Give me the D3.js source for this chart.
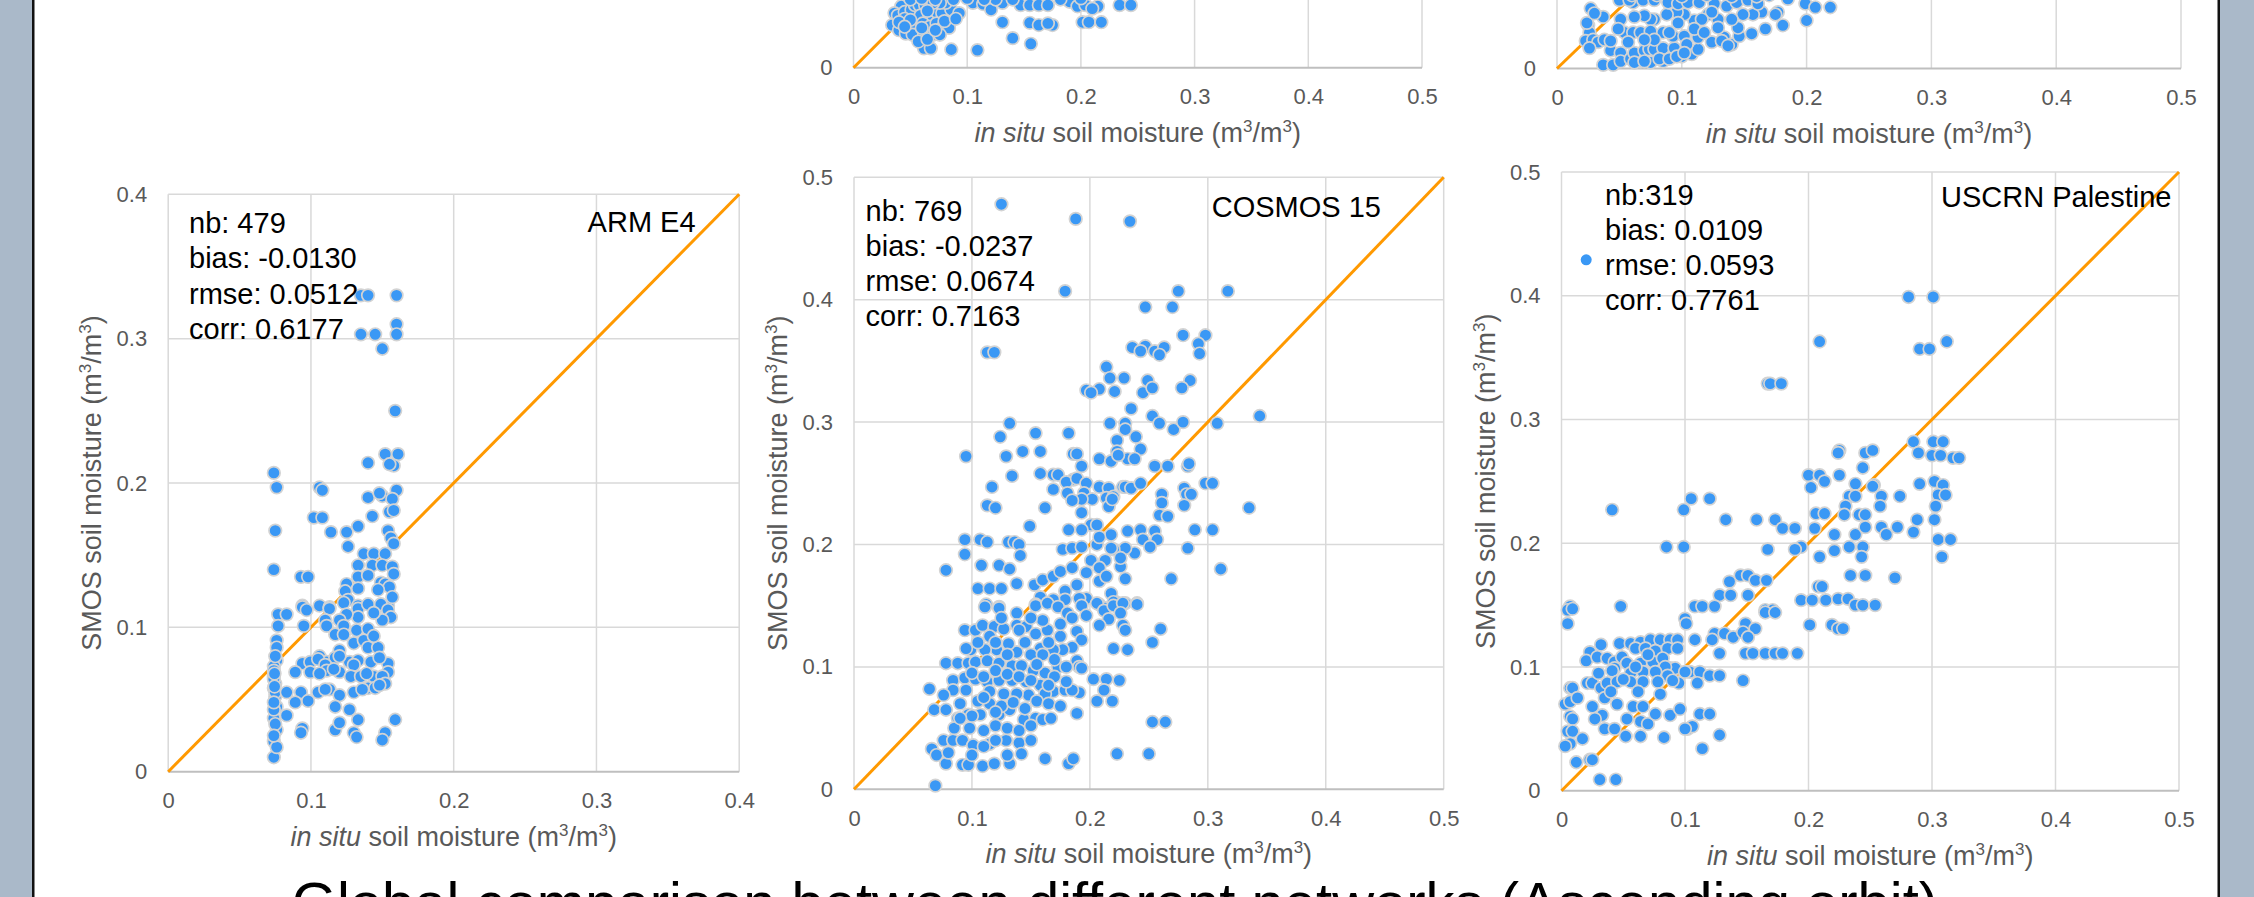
<!DOCTYPE html>
<html>
<head>
<meta charset="utf-8">
<script src="https://cdnjs.cloudflare.com/ajax/libs/d3/7.8.5/d3.min.js"></script>
<style>
  body { margin: 0; background: #fff; }
  svg { display: block; font-family: "Liberation Sans", Arial, sans-serif; }
</style>
</head>
<body>
<div id="slide"></div>
<script>
// ---- data (in situ, SMOS) ----

// top row, middle panel (only the bottom strip is visible)
var topMidPoints = [
  [0.034,0.0375],[0.042,0.054],[0.036,0.048],[0.039,0.046],[0.045,0.049],[0.051,0.051],[0.054,0.055],[0.058,0.055],
  [0.063,0.055],[0.059,0.046],[0.067,0.046],[0.073,0.049],[0.078,0.048],[0.086,0.051],[0.093,0.048],[0.081,0.057],
  [0.076,0.057],[0.070,0.057],[0.045,0.043],[0.049,0.0375],[0.055,0.036],[0.061,0.039],[0.067,0.036],[0.073,0.039],
  [0.078,0.035],[0.084,0.035],[0.040,0.033],[0.046,0.030],[0.052,0.029],[0.062,0.029],[0.070,0.029],[0.076,0.029],
  [0.062,0.017],[0.068,0.017],[0.086,0.016],[0.109,0.0155],[0.105,0.057],[0.114,0.056],[0.121,0.051],[0.131,0.057],
  [0.131,0.040],[0.140,0.026],[0.156,0.021],[0.147,0.055],[0.155,0.055],[0.163,0.055],[0.171,0.055],[0.155,0.0395],
  [0.163,0.0375],[0.175,0.0375],[0.171,0.039],[0.190,0.058],[0.197,0.054],[0.204,0.055],[0.215,0.054],[0.210,0.052],
  [0.2015,0.040],[0.207,0.040],[0.218,0.040],[0.234,0.055],[0.244,0.055],
  [0.050,0.060],[0.060,0.061],[0.072,0.060],[0.088,0.060],[0.100,0.061],[0.125,0.060],[0.140,0.060],[0.182,0.060],
  [0.200,0.061],[0.115,0.060],[0.040,0.040],[0.050,0.042],[0.060,0.035],[0.065,0.050],[0.080,0.041],[0.090,0.043],
  [0.057,0.023],[0.065,0.025],[0.045,0.036],[0.072,0.033]
];

// top row, right panel (only the bottom strip is visible)
var topRightPoints = [
  [0.027,0.050],[0.037,0.043],[0.025,0.036],[0.026,0.030],[0.023,0.023],[0.029,0.024],[0.033,0.022],[0.026,0.017],
  [0.038,0.024],[0.043,0.015],[0.037,0.003],[0.045,0.003],[0.051,0.013],[0.051,0.006],[0.059,0.008],[0.067,0.006],
  [0.062,0.013],[0.070,0.015],[0.074,0.016],[0.075,0.005],[0.085,0.006],[0.078,0.016],[0.085,0.017],[0.094,0.017],
  [0.100,0.010],[0.108,0.012],[0.113,0.016],[0.124,0.022],[0.134,0.026],[0.140,0.020],[0.146,0.027],[0.156,0.029],
  [0.167,0.033],[0.177,0.047],[0.181,0.036],[0.175,0.045],[0.164,0.047],[0.157,0.045],[0.149,0.045],[0.145,0.034],
  [0.140,0.041],[0.129,0.041],[0.121,0.045],[0.110,0.040],[0.102,0.045],[0.096,0.047],[0.088,0.045],[0.078,0.041],
  [0.075,0.041],[0.070,0.044],[0.062,0.043],[0.061,0.055],[0.051,0.041],[0.054,0.030],[0.061,0.030],[0.067,0.030],
  [0.075,0.031],[0.085,0.030],[0.093,0.027],[0.102,0.027],[0.104,0.020],[0.113,0.026],[0.090,0.030],[0.078,0.024],
  [0.070,0.024],[0.057,0.022],[0.043,0.023],[0.049,0.033],[0.050,0.057],[0.058,0.057],[0.069,0.057],[0.078,0.057],
  [0.089,0.055],[0.097,0.054],[0.105,0.055],[0.114,0.055],[0.126,0.054],[0.136,0.052],[0.144,0.055],[0.153,0.057],
  [0.161,0.054],[0.185,0.058],[0.199,0.054],[0.200,0.040],[0.207,0.051],[0.219,0.051],[0.124,0.047],[0.116,0.041],
  [0.129,0.034],[0.110,0.033],[0.097,0.038],[0.132,0.023],[0.118,0.030],[0.062,0.005],[0.070,0.006],[0.082,0.008],
  [0.090,0.008],[0.096,0.010],[0.102,0.013],[0.137,0.019],[0.024,0.038],[0.030,0.046],
  [0.060,0.061],[0.080,0.061],[0.100,0.060],[0.120,0.061],[0.140,0.060],[0.160,0.060],[0.170,0.061]
];

// ARM E4
var armE4Points = [
  [0.135,0.330],[0.140,0.330],[0.160,0.330],[0.160,0.310],[0.160,0.303],[0.135,0.303],[0.145,0.303],[0.150,0.293],
  [0.159,0.250],[0.152,0.220],[0.161,0.220],[0.140,0.214],[0.158,0.212],[0.155,0.213],
  [0.074,0.207],[0.076,0.197],[0.106,0.197],[0.108,0.195],
  [0.140,0.190],[0.150,0.191],[0.160,0.195],[0.157,0.189],[0.148,0.193],[0.155,0.180],[0.158,0.181],
  [0.102,0.176],[0.108,0.176],[0.143,0.177],
  [0.075,0.167],[0.114,0.166],[0.125,0.166],[0.133,0.170],[0.154,0.167],[0.156,0.162],[0.158,0.158],
  [0.126,0.156],[0.137,0.151],[0.144,0.151],[0.152,0.151],
  [0.133,0.143],[0.143,0.143],[0.150,0.143],[0.157,0.142],[0.158,0.137],
  [0.074,0.140],[0.093,0.135],[0.098,0.135],
  [0.133,0.135],[0.140,0.136],[0.149,0.131],[0.152,0.130],[0.155,0.128],
  [0.125,0.130],[0.124,0.125],[0.133,0.127],[0.147,0.126],
  [0.094,0.115],[0.106,0.115],[0.113,0.114],[0.126,0.119],[0.133,0.115],[0.149,0.115],[0.154,0.115],[0.157,0.121],
  [0.077,0.109],[0.083,0.109],[0.077,0.101],[0.094,0.114],[0.097,0.112],
  [0.113,0.113],[0.123,0.117],[0.133,0.113],[0.140,0.116],[0.149,0.116],[0.154,0.112],[0.156,0.107],[0.150,0.105],
  [0.144,0.110],[0.133,0.107],[0.125,0.109],[0.120,0.105],[0.110,0.105],[0.111,0.101],[0.123,0.101],[0.132,0.098],
  [0.140,0.099],[0.117,0.095],[0.123,0.095],[0.095,0.101],
  [0.120,0.084],[0.130,0.089],[0.137,0.091],[0.140,0.086],[0.147,0.086],[0.144,0.094],
  [0.076,0.091],[0.076,0.086],[0.076,0.077],[0.074,0.073],[0.074,0.066],[0.075,0.061],[0.074,0.058],[0.075,0.052],
  [0.076,0.045],[0.074,0.037],[0.076,0.029],[0.074,0.021],[0.074,0.010],[0.076,0.017],[0.074,0.043],[0.074,0.070],
  [0.075,0.080],[0.074,0.064],[0.075,0.055],[0.074,0.048],[0.075,0.033],[0.074,0.025],[0.0745,0.068],[0.0745,0.059],
  [0.094,0.075],[0.0995,0.076],[0.106,0.080],[0.111,0.076],[0.117,0.079],[0.127,0.076],[0.133,0.077],[0.142,0.076],
  [0.154,0.075],[0.105,0.078],[0.110,0.074],[0.120,0.080],[0.130,0.074],[0.148,0.079],
  [0.089,0.069],[0.0995,0.069],[0.111,0.070],[0.120,0.069],[0.128,0.066],[0.135,0.066],[0.144,0.066],[0.154,0.069],
  [0.106,0.068],[0.116,0.071],[0.139,0.068],[0.150,0.066],
  [0.105,0.055],[0.113,0.057],[0.120,0.053],[0.130,0.055],[0.140,0.058],[0.145,0.058],[0.152,0.061],[0.083,0.055],
  [0.093,0.055],[0.098,0.049],[0.089,0.048],[0.110,0.057],[0.136,0.057],[0.148,0.060],
  [0.117,0.045],[0.127,0.043],[0.083,0.039],[0.133,0.036],[0.159,0.036],[0.094,0.030],[0.117,0.029],[0.130,0.027],
  [0.152,0.027],[0.150,0.022],[0.132,0.024],[0.120,0.034],[0.093,0.027]
];

// COSMOS 15
var cosmos15Points = [
  [0.125,0.478],[0.188,0.466],[0.234,0.464],[0.179,0.407],[0.275,0.407],[0.317,0.407],[0.247,0.394],[0.270,0.394],
  [0.279,0.371],[0.298,0.371],[0.113,0.357],[0.119,0.357],
  [0.236,0.361],[0.247,0.362],[0.255,0.358],[0.263,0.361],[0.259,0.355],[0.243,0.358],[0.292,0.364],[0.293,0.356],
  [0.214,0.345],[0.217,0.336],[0.229,0.336],[0.249,0.334],[0.285,0.334],[0.278,0.328],
  [0.197,0.326],[0.208,0.327],[0.201,0.324],[0.221,0.325],[0.245,0.324],[0.253,0.328],[0.235,0.311],
  [0.132,0.299],[0.154,0.291],[0.124,0.288],[0.182,0.291],[0.217,0.299],[0.230,0.299],[0.230,0.294],
  [0.253,0.305],[0.259,0.299],[0.271,0.294],[0.279,0.300],[0.308,0.299],[0.344,0.305],
  [0.239,0.288],[0.223,0.285],[0.243,0.278],
  [0.095,0.272],[0.129,0.272],[0.143,0.276],[0.158,0.276],[0.186,0.274],[0.189,0.274],[0.208,0.270],
  [0.218,0.268],[0.223,0.276],[0.232,0.270],[0.238,0.270],[0.224,0.273],
  [0.193,0.264],[0.255,0.264],[0.266,0.264],[0.283,0.264],[0.284,0.266],
  [0.134,0.256],[0.158,0.258],[0.169,0.257],[0.173,0.257],[0.186,0.253],[0.180,0.251],[0.189,0.254],[0.197,0.250],
  [0.117,0.247],[0.169,0.245],[0.181,0.242],[0.195,0.242],[0.202,0.237],[0.208,0.247],[0.216,0.246],[0.228,0.247],
  [0.230,0.247],[0.235,0.246],[0.243,0.250],
  [0.193,0.237],[0.185,0.236],[0.214,0.238],[0.220,0.239],[0.216,0.231],[0.219,0.237],
  [0.162,0.230],[0.113,0.232],[0.120,0.230],[0.193,0.226],
  [0.261,0.241],[0.261,0.234],[0.259,0.224],[0.266,0.223],[0.280,0.246],[0.282,0.241],[0.286,0.241],[0.280,0.232],
  [0.298,0.250],[0.304,0.250],[0.335,0.230],
  [0.289,0.212],[0.304,0.212],[0.283,0.197],[0.311,0.180],[0.269,0.172],
  [0.243,0.212],[0.255,0.211],[0.257,0.204],[0.245,0.204],[0.251,0.198],
  [0.232,0.211],[0.238,0.193],[0.230,0.197],[0.226,0.182],[0.230,0.172],[0.220,0.196],
  [0.201,0.216],[0.206,0.216],[0.193,0.212],[0.182,0.212],
  [0.177,0.196],[0.185,0.197],[0.193,0.198],[0.206,0.200],[0.218,0.197],[0.218,0.208],[0.208,0.206],[0.201,0.187],
  [0.213,0.187],[0.226,0.189],
  [0.149,0.215],[0.094,0.204],[0.107,0.204],[0.113,0.202],[0.131,0.202],[0.136,0.202],[0.140,0.200],[0.141,0.191],
  [0.094,0.192],[0.108,0.183],[0.123,0.183],[0.132,0.180],[0.078,0.179],[0.138,0.168],[0.153,0.167],
  [0.105,0.164],[0.115,0.164],[0.125,0.164],
  [0.160,0.171],[0.169,0.174],[0.175,0.178],[0.185,0.181],[0.189,0.167],[0.197,0.177],[0.208,0.181],[0.208,0.170],
  [0.214,0.174],[0.197,0.156],[0.191,0.156],[0.179,0.162],[0.179,0.155],[0.169,0.155],[0.158,0.157],[0.154,0.151],
  [0.112,0.151],[0.123,0.149],
  [0.208,0.151],[0.213,0.148],[0.222,0.153],[0.230,0.152],[0.240,0.152],[0.218,0.160],[0.220,0.153],
  [0.111,0.149],[0.123,0.148],[0.138,0.144],
  [0.154,0.150],[0.164,0.152],[0.173,0.149],[0.181,0.144],[0.193,0.150],[0.197,0.142],[0.206,0.152],[0.212,0.146],
  [0.216,0.139],[0.208,0.134],[0.220,0.150],[0.228,0.152],[0.240,0.151],[0.226,0.144],[0.228,0.134],[0.230,0.130],
  [0.260,0.131],[0.253,0.120],[0.220,0.115],[0.232,0.114],[0.094,0.130],[0.103,0.130],
  [0.109,0.134],[0.119,0.133],[0.127,0.131],[0.138,0.134],[0.146,0.133],[0.154,0.127],[0.164,0.130],[0.175,0.125],
  [0.189,0.129],[0.193,0.122],[0.185,0.116],[0.177,0.114],[0.169,0.114],[0.158,0.115],[0.150,0.110],[0.138,0.112],
  [0.131,0.119],[0.121,0.114],[0.111,0.114],[0.099,0.114],[0.095,0.115],
  [0.078,0.103],[0.088,0.103],[0.097,0.103],[0.103,0.104],[0.113,0.105],[0.123,0.103],[0.134,0.101],[0.142,0.101],
  [0.152,0.097],[0.162,0.095],[0.173,0.100],[0.189,0.105],[0.191,0.100],[0.193,0.099],
  [0.203,0.090],[0.214,0.090],[0.225,0.089],[0.212,0.081],[0.206,0.072],[0.219,0.072],[0.064,0.082],
  [0.084,0.089],[0.094,0.091],[0.103,0.090],[0.113,0.088],[0.123,0.089],[0.134,0.089],[0.146,0.088],[0.158,0.085],
  [0.169,0.080],[0.179,0.081],[0.191,0.079],[0.185,0.081],[0.162,0.078],[0.148,0.077],[0.138,0.078],[0.127,0.078],
  [0.115,0.080],[0.095,0.081],[0.084,0.081],[0.076,0.077],
  [0.068,0.065],[0.078,0.065],[0.088,0.058],[0.097,0.061],[0.107,0.061],[0.123,0.061],[0.132,0.065],[0.144,0.057],
  [0.154,0.058],[0.160,0.057],[0.167,0.058],[0.189,0.062],
  [0.066,0.033],[0.076,0.040],[0.084,0.040],[0.092,0.040],[0.101,0.036],[0.115,0.037],[0.129,0.040],[0.140,0.038],
  [0.150,0.040],[0.142,0.029],
  [0.070,0.028],[0.078,0.021],[0.092,0.020],[0.097,0.020],[0.109,0.019],[0.119,0.021],[0.132,0.021],[0.162,0.025],
  [0.182,0.021],[0.186,0.025],[0.223,0.029],[0.250,0.029],[0.253,0.055],[0.264,0.055],[0.069,0.003],
  [0.100,0.095],[0.110,0.092],[0.120,0.097],[0.130,0.094],[0.140,0.092],[0.150,0.089],[0.105,0.072],[0.115,0.070],
  [0.125,0.068],[0.135,0.071],[0.145,0.066],[0.155,0.072],[0.165,0.070],[0.175,0.068],[0.098,0.050],[0.110,0.048],
  [0.120,0.052],[0.130,0.050],[0.140,0.048],[0.150,0.052],[0.160,0.110],[0.170,0.106],[0.180,0.100],[0.165,0.120],
  [0.175,0.135],[0.185,0.140],[0.090,0.070],[0.085,0.050],[0.080,0.030],[0.100,0.028],[0.110,0.035],[0.120,0.040],
  [0.130,0.028],[0.170,0.092],[0.180,0.088],[0.160,0.138],[0.150,0.140],[0.140,0.130],[0.125,0.140],[0.115,0.125],
  [0.105,0.120],[0.130,0.110],[0.145,0.120],[0.155,0.102],[0.165,0.085],[0.120,0.120],[0.110,0.075],[0.100,0.060],
  [0.090,0.058],[0.120,0.063]
];

// USCRN Palestine
var uscrnPoints = [
  [0.281,0.399],[0.301,0.399],[0.209,0.363],[0.290,0.357],[0.298,0.357],[0.312,0.363],[0.167,0.329],[0.169,0.329],
  [0.178,0.329],[0.285,0.282],[0.301,0.282],[0.309,0.282],
  [0.289,0.273],[0.300,0.271],[0.307,0.271],[0.317,0.269],[0.322,0.269],
  [0.225,0.275],[0.224,0.273],[0.246,0.273],[0.252,0.275],[0.244,0.261],
  [0.200,0.255],[0.209,0.255],[0.225,0.255],[0.213,0.250],[0.202,0.245],
  [0.238,0.248],[0.253,0.247],[0.252,0.246],[0.259,0.238],
  [0.290,0.248],[0.302,0.250],[0.309,0.247],[0.305,0.239],[0.311,0.239],[0.303,0.230],[0.302,0.219],[0.305,0.203],
  [0.315,0.203],[0.308,0.189],
  [0.233,0.238],[0.238,0.238],[0.230,0.230],[0.229,0.223],[0.241,0.223],[0.246,0.223],[0.258,0.230],[0.259,0.213],
  [0.263,0.207],[0.274,0.238],[0.206,0.224],[0.213,0.224],[0.205,0.212],
  [0.238,0.207],[0.246,0.213],[0.221,0.207],[0.233,0.197],[0.244,0.197],[0.243,0.189],[0.209,0.189],[0.221,0.194],
  [0.272,0.213],[0.285,0.209],[0.288,0.219],[0.194,0.197],[0.189,0.195],[0.167,0.195],
  [0.173,0.219],[0.179,0.212],[0.189,0.212],[0.158,0.219],[0.133,0.219],[0.099,0.227],[0.041,0.227],
  [0.105,0.236],[0.120,0.236],[0.085,0.197],[0.099,0.197],
  [0.234,0.174],[0.246,0.174],[0.270,0.172],[0.145,0.174],[0.151,0.174],[0.157,0.170],[0.166,0.170],[0.136,0.169],
  [0.128,0.158],[0.137,0.158],[0.151,0.158],[0.208,0.165],[0.211,0.165],
  [0.194,0.154],[0.203,0.154],[0.214,0.154],[0.224,0.155],[0.232,0.155],[0.238,0.150],[0.244,0.150],[0.254,0.150],
  [0.108,0.149],[0.114,0.149],[0.124,0.149],[0.165,0.146],[0.171,0.146],[0.007,0.149],[0.048,0.149],[0.005,0.146],
  [0.009,0.147],[0.005,0.135],
  [0.100,0.139],[0.101,0.135],[0.108,0.122],[0.124,0.127],[0.132,0.127],[0.139,0.124],[0.149,0.135],[0.147,0.128],
  [0.157,0.131],[0.151,0.124],[0.122,0.122],[0.165,0.144],[0.173,0.144],
  [0.201,0.134],[0.219,0.134],[0.224,0.131],[0.228,0.131],
  [0.149,0.111],[0.155,0.111],[0.165,0.111],[0.173,0.111],[0.179,0.111],[0.191,0.111],[0.128,0.111],
  [0.047,0.119],[0.056,0.119],[0.064,0.120],[0.072,0.122],[0.080,0.122],[0.088,0.122],[0.094,0.122],[0.060,0.115],
  [0.068,0.115],[0.076,0.113],[0.086,0.115],[0.094,0.115],[0.032,0.118],[0.023,0.112],[0.020,0.105],[0.029,0.108],
  [0.037,0.107],[0.043,0.104],[0.049,0.108],[0.053,0.103],[0.064,0.103],[0.074,0.104],[0.082,0.107],[0.088,0.099],
  [0.092,0.099],[0.084,0.100],[0.043,0.099],[0.041,0.097],[0.056,0.095],[0.066,0.096],[0.076,0.096],[0.086,0.093],
  [0.095,0.087],[0.104,0.096],[0.112,0.096],[0.120,0.093],[0.128,0.093],[0.110,0.087],[0.147,0.089],[0.100,0.096],
  [0.007,0.083],[0.009,0.083],[0.021,0.087],[0.025,0.087],[0.032,0.083],[0.037,0.087],[0.045,0.088],[0.056,0.088],
  [0.066,0.088],[0.078,0.088],[0.090,0.089],
  [0.003,0.070],[0.007,0.072],[0.013,0.075],[0.035,0.075],[0.045,0.070],[0.058,0.068],[0.066,0.068],[0.033,0.061],
  [0.007,0.060],[0.009,0.058],[0.025,0.068],[0.027,0.058],[0.053,0.058],[0.064,0.056],[0.070,0.054],[0.076,0.062],
  [0.088,0.061],[0.096,0.066],[0.112,0.062],[0.120,0.062],[0.102,0.050],[0.106,0.052],[0.100,0.050],
  [0.005,0.048],[0.009,0.048],[0.007,0.038],[0.003,0.036],[0.017,0.042],[0.035,0.050],[0.043,0.050],[0.052,0.044],
  [0.064,0.044],[0.083,0.043],[0.128,0.045],[0.114,0.034],[0.012,0.023],[0.023,0.025],[0.025,0.025],
  [0.031,0.009],[0.044,0.009],
  [0.060,0.100],[0.070,0.110],[0.050,0.090],[0.040,0.080],[0.080,0.078],[0.062,0.080],[0.030,0.095]
];
// lone marker next to the USCRN stats
var uscrnMarker = [[0.020,0.429]];

var ticks05 = [0, 0.1, 0.2, 0.3, 0.4, 0.5];
var ticks04 = [0, 0.1, 0.2, 0.3, 0.4];

var armE4Stats = ["nb: 479", "bias: -0.0130", "rmse: 0.0512", "corr: 0.6177"];
var cosmos15Stats = ["nb: 769", "bias: -0.0237", "rmse: 0.0674", "corr: 0.7163"];
var uscrnStats = ["nb:319", "bias: 0.0109", "rmse: 0.0593", "corr: 0.7761"];

var slideTitle = "Global comparison between different networks (Ascending orbit)";

// ---- layout ----
var svgWidth = 2254;
var svgHeight = 897;

// top panels are cut by the window: only their bottom strip shows
var panels = [
  {points: topMidPoints, ticks: ticks05, left: 853.5, right: 1422, bottom: 67.7, top: -500.8, cut: true},
  {points: topRightPoints, ticks: ticks05, left: 1557, right: 2181, bottom: 68.5, top: -531.5, cut: true},
  {points: armE4Points, ticks: ticks04, left: 168.2, right: 739.2, bottom: 771.7, top: 194.3,
   name: "ARM E4", nameX: 695.6, nameY: 231.7, stats: armE4Stats, statsX: 189, statsY: 233},
  {points: cosmos15Points, ticks: ticks05, left: 854, right: 1443.7, bottom: 789.3, top: 177.3,
   name: "COSMOS 15", nameX: 1381, nameY: 216.7, stats: cosmos15Stats, statsX: 865.6, statsY: 220.5},
  {points: uscrnPoints, ticks: ticks05, left: 1561.5, right: 2179, bottom: 790.7, top: 172,
   name: "USCRN Palestine", nameX: 2171.5, nameY: 207.3, stats: uscrnStats, statsX: 1605, statsY: 204.5,
   marker: uscrnMarker}
];

var svg = d3.select("#slide")
  .append("svg")
  .attr("width", svgWidth)
  .attr("height", svgHeight);

// slide frame: grey bands at the sides with a black edge
svg.append("rect").attr("x", 0).attr("y", 0).attr("width", 32).attr("height", svgHeight).attr("fill", "#aab9c9");
svg.append("rect").attr("x", 32).attr("y", 0).attr("width", 2.5).attr("height", svgHeight).attr("fill", "#111");
svg.append("rect").attr("x", 2220).attr("y", 0).attr("width", 34).attr("height", svgHeight).attr("fill", "#aab9c9");
svg.append("rect").attr("x", 2217.5).attr("y", 0).attr("width", 2.5).attr("height", svgHeight).attr("fill", "#111");

var tickFmt = function(d) { return d === 0 ? "0" : d3.format(".1f")(d); };

function addUnitTitle(sel, lead) {
  if (lead) {
    sel.append("tspan").attr("font-style", "italic").text("in situ");
    sel.append("tspan").text(" soil moisture (m");
  } else {
    sel.append("tspan").text("SMOS soil moisture (m");
  }
  sel.append("tspan").attr("font-size", "17px").attr("dy", -10).text("3");
  sel.append("tspan").attr("dy", 10).text("/m");
  sel.append("tspan").attr("font-size", "17px").attr("dy", -10).text("3");
  sel.append("tspan").attr("dy", 10).text(")");
}

panels.forEach(function(p) {
  var max = p.ticks[p.ticks.length - 1];
  var xScale = d3.scaleLinear().domain([0, max]).range([p.left, p.right]);
  var yScale = d3.scaleLinear().domain([0, max]).range([p.bottom, p.top]);

  var g = svg.append("g");

  // gridlines
  g.selectAll(".vgrid")
    .data(p.ticks)
    .enter()
    .append("line")
    .attr("x1", d => xScale(d)).attr("x2", d => xScale(d))
    .attr("y1", p.bottom).attr("y2", p.top)
    .attr("stroke", "#d9d9d9").attr("stroke-width", 1.5);
  g.selectAll(".hgrid")
    .data(p.ticks.slice(1))
    .enter()
    .append("line")
    .attr("x1", p.left).attr("x2", p.right)
    .attr("y1", d => yScale(d)).attr("y2", d => yScale(d))
    .attr("stroke", "#d9d9d9").attr("stroke-width", 1.5);
  g.append("line")
    .attr("x1", p.left).attr("x2", p.right)
    .attr("y1", p.bottom).attr("y2", p.bottom)
    .attr("stroke", "#bfbfbf").attr("stroke-width", 2);

  // 1:1 line
  g.append("line")
    .attr("x1", xScale(0)).attr("y1", yScale(0))
    .attr("x2", xScale(max)).attr("y2", yScale(max))
    .attr("stroke", "#ff9900").attr("stroke-width", 3);

  // points
  g.selectAll("circle.pt")
    .data(p.points)
    .enter()
    .append("circle")
    .attr("class", "pt")
    .attr("cx", d => xScale(d[0]))
    .attr("cy", d => yScale(d[1]))
    .attr("r", 6.3)
    .attr("fill", "#3a98f5")
    .attr("stroke", "#d3d3d3")
    .attr("stroke-width", 1.7);

  if (p.marker) {
    g.selectAll("circle.mk")
      .data(p.marker)
      .enter()
      .append("circle")
      .attr("class", "mk")
      .attr("cx", d => xScale(d[0]))
      .attr("cy", d => yScale(d[1]))
      .attr("r", 5.5)
      .attr("fill", "#3a98f5");
  }

  // axes (labels only)
  var bottomAxis = d3.axisBottom(xScale).tickValues(p.ticks).tickSize(0).tickPadding(21).tickFormat(tickFmt);
  var leftAxis = d3.axisLeft(yScale).tickValues(p.cut ? [0] : p.ticks).tickSize(0).tickPadding(21).tickFormat(tickFmt);

  var xa = g.append("g").attr("transform", `translate(0, ${p.bottom})`).call(bottomAxis);
  var ya = g.append("g").attr("transform", `translate(${p.left}, 0)`).call(leftAxis);
  [xa, ya].forEach(function(a) {
    a.select(".domain").remove();
    a.selectAll("text")
      .attr("fill", "#595959")
      .style("font-size", "22px")
      .style("font-family", "'Liberation Sans', Arial, sans-serif");
  });

  // axis titles
  var xt = g.append("text")
    .attr("x", (p.left + p.right) / 2)
    .attr("y", p.bottom + 74)
    .attr("text-anchor", "middle")
    .attr("fill", "#595959")
    .style("font-size", "27px");
  addUnitTitle(xt, true);

  if (!p.cut) {
    var cy = (p.top + p.bottom) / 2;
    var yt = g.append("text")
      .attr("transform", `translate(${p.left - 67}, ${cy}) rotate(-90)`)
      .attr("text-anchor", "middle")
      .attr("fill", "#595959")
      .style("font-size", "27px");
    addUnitTitle(yt, false);
  }

  // network name and statistics
  if (p.name) {
    g.append("text")
      .attr("x", p.nameX).attr("y", p.nameY)
      .attr("text-anchor", "end")
      .attr("fill", "#000")
      .style("font-size", "29px")
      .text(p.name);
  }
  if (p.stats) {
    g.selectAll(".stat")
      .data(p.stats)
      .enter()
      .append("text")
      .attr("x", p.statsX)
      .attr("y", (d, i) => p.statsY + i * 35.3)
      .attr("fill", "#000")
      .style("font-size", "29px")
      .text(d => d);
  }
});

// slide title, cut by the bottom edge
svg.append("text")
  .attr("x", 1115)
  .attr("y", 923)
  .attr("text-anchor", "middle")
  .attr("fill", "#000")
  .style("font-size", "58px")
  .text(slideTitle);
</script>
</body>
</html>
